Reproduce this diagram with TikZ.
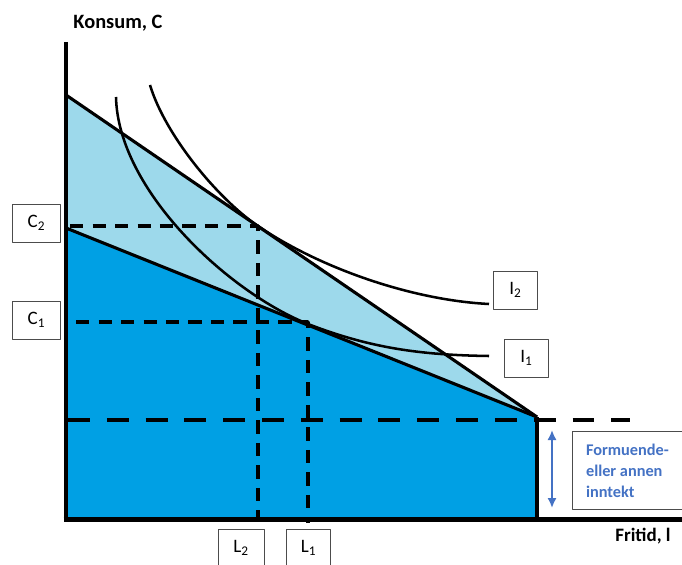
\documentclass[tikz,border=0pt]{standalone}
\usepackage{fontspec}
\setmainfont{Carlito}
\usetikzlibrary{positioning,calc,arrows.meta}

\begin{document}
\begin{tikzpicture}[
    x=0.025cm, y=-0.025cm,
    font=\fontsize{13.5}{16}\selectfont,
    >={Latex[length=2.5mm,width=2.3mm]},
    line join=round,
    labelbox/.style={draw=black!70, line width=0.6pt, minimum width=1.2cm, minimum height=0.95cm, inner sep=0pt},
    budget/.style={line width=2.2pt},
    indiff/.style={line width=1.8pt},
    helpline/.style={line width=2.6pt, dash pattern=on 9.5pt off 6.5pt}
]

% ========= Colors =========
\definecolor{lightarea}{RGB}{157,217,235}
\definecolor{darkarea}{RGB}{0,160,228}
\definecolor{notecolor}{RGB}{68,114,196}

\useasboundingbox (0,0) rectangle (682,564);

% ========= Points =========
\coordinate (O) at (66,519.5);
\coordinate (A) at (66,95);    % upper budget line
\coordinate (B) at (66,228);   % lower budget line
\coordinate (K) at (537,417);  % kink
\coordinate (Kb) at (537,519.5);
\coordinate (E2) at (258,226);
\coordinate (E1) at (308,324);

% ========= Areas =========
\fill[lightarea] (A) -- (K) -- (B) -- cycle;
\fill[darkarea] (B) -- (K) -- (Kb) -- (O) -- cycle;

% ========= Helper lines =========
\draw[helpline] (70,226) -- (E2) -- (258,519);
\draw[helpline] (76,322) -- (308,322) -- (308,523);
\draw[line width=2.8pt, dash pattern=on 15.6pt off 12pt] (68,420) -- (630,420);

% ========= Budget lines =========
\draw[budget] (A) -- (K);
\draw[budget] (B) -- (K);
\draw[budget] (K) -- (Kb);

% ========= Indifference curves =========
\draw[indiff] (150,85) .. controls (165,135) and (218,199) .. (E2)
    .. controls (318,267) and (410,300) .. (489,304);
\draw[indiff] (116,97) .. controls (118,190) and (228,292) .. (E1)
    .. controls (370,348) and (420,355) .. (489,356);

% ========= Axes =========
\draw[line width=3.5pt] (66,42) -- (66,522);
\draw[line width=3.5pt] (63.5,519.5) -- (682,519.5);
\node[font=\fontsize{14.5}{17}\selectfont\bfseries] (ylab) at (118,23) {Konsum, C};
\node[font=\fontsize{13.5}{16}\selectfont\bfseries] (xlab) at (643,536) {Fritid, l};

% ========= Label boxes =========
\node[labelbox] (c2) at (36.5,223) {C\textsubscript{2}};
\node[labelbox] (c1) at (36.5,320) {C\textsubscript{1}};
\node[labelbox, minimum width=1.15cm] (l2) at (241,548) {L\textsubscript{2}};
\node[labelbox, minimum width=1.08cm] (l1) at (308.5,548) {L\textsubscript{1}};
\node[labelbox, minimum width=1.08cm] (i2) at (515.5,290) {I\textsubscript{2}};
\node[labelbox, minimum width=1.08cm] (i1) at (526.5,358) {I\textsubscript{1}};

% ========= Wealth note =========
\node[labelbox, anchor=north west, minimum width=2.75cm, minimum height=1.95cm,
      align=left, text=notecolor, font=\fontsize{11.6}{15}\selectfont\bfseries]
      (note) at (572,431) {Formuende-\\eller annen\\inntekt};
\coordinate (wtop) at (552,430);
\coordinate (wbot) at (552,508);
\draw[<->, notecolor, line width=1.5pt] (wtop) -- (wbot);

\end{tikzpicture}
\end{document}
